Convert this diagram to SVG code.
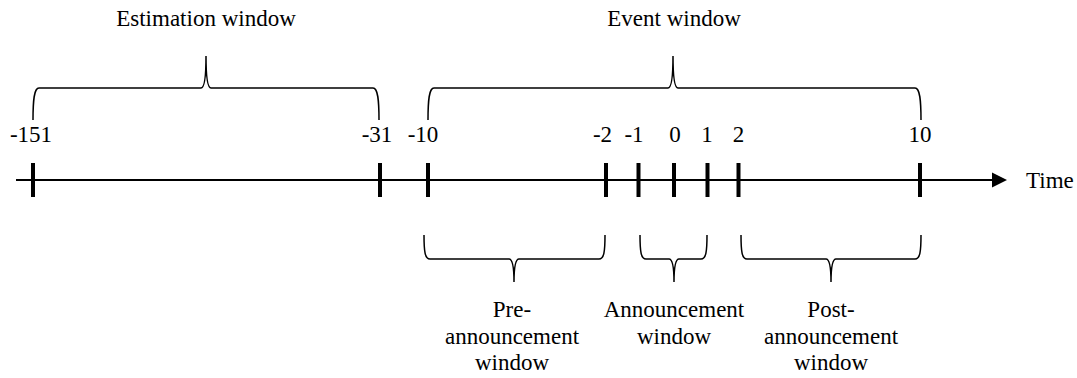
<svg xmlns="http://www.w3.org/2000/svg" width="1077" height="378" viewBox="0 0 1077 378">
<style>
text{font-family:'Liberation Serif',Tinos,'Times New Roman',Times,'Noto Serif','DejaVu Serif',serif;font-size:23px;fill:#000}
.m{text-anchor:middle}
.brace{fill:none;stroke:#000;stroke-width:1.5}
.axis{stroke:#000;stroke-width:2}
.tick{stroke:#000;stroke-width:4}
</style>
<rect width="1077" height="378" fill="#fff"/>
<g id="connectors">
<line class="axis" x1="16" y1="180" x2="994" y2="180"/>
<polygon points="992,172.5 1007,180 992,187.5" fill="#000"/>
</g>
<g id="ticks">
<line class="tick" x1="33" y1="163" x2="33" y2="197"/>
<line class="tick" x1="380" y1="163" x2="380" y2="197"/>
<line class="tick" x1="428" y1="163" x2="428" y2="197"/>
<line class="tick" x1="606" y1="163" x2="606" y2="197"/>
<line class="tick" x1="638.5" y1="163" x2="638.5" y2="197"/>
<line class="tick" x1="674" y1="163" x2="674" y2="197"/>
<line class="tick" x1="707.5" y1="163" x2="707.5" y2="197"/>
<line class="tick" x1="738.5" y1="163" x2="738.5" y2="197"/>
<line class="tick" x1="920" y1="163" x2="920" y2="197"/>
</g>
<g id="tick-labels" font-family="Liberation Serif, serif">
<text class="m" x="31" y="142">-151</text>
<text class="m" x="377" y="142">-31</text>
<text class="m" x="423" y="142">-10</text>
<text class="m" x="602.5" y="142">-2</text>
<text class="m" x="634" y="142">-1</text>
<text class="m" x="675" y="142">0</text>
<text class="m" x="707" y="142">1</text>
<text class="m" x="738.5" y="142">2</text>
<text class="m" x="920" y="142">10</text>
<text x="1026" y="188">Time</text>
</g>
<g id="estimation-window">
<path class="brace" d="M33,120 C33,100 34,88 39,88 L201,88 C204,88 206,80 206,56 C206,80 208,88 211,88 L373,88 C378,88 379,100 379,120"/>
<text class="m" x="206" y="26">Estimation window</text>
</g>
<g id="event-window">
<path class="brace" d="M428,120 C428,100 429,88 434,88 L668,88 C671,88 673,80 673,56 C673,80 675,88 678,88 L915,88 C920,88 921,100 921,120"/>
<text class="m" x="674" y="26">Event window</text>
</g>
<g id="pre-announcement-window">
<path class="brace" d="M424,235 C424,252 425,259 430,259 L509,259 C512,259 514,265 514,282 C514,265 516,259 519,259 L599,259 C604,259 605,252 605,235"/>
<text class="m" x="512" y="317">Pre-</text>
<text class="m" x="512" y="343.5">announcement</text>
<text class="m" x="512" y="370">window</text>
</g>
<g id="announcement-window">
<path class="brace" d="M640,235 C640,252 641,259 646,259 L669,259 C672,259 674,265 674,282 C674,265 676,259 679,259 L701,259 C706,259 707,252 707,235"/>
<text class="m" x="674" y="317">Announcement</text>
<text class="m" x="674" y="343.5">window</text>
</g>
<g id="post-announcement-window">
<path class="brace" d="M741,235 C741,252 742,259 747,259 L826,259 C829,259 831,265 831,282 C831,265 833,259 836,259 L915,259 C920,259 921,252 921,235"/>
<text class="m" x="831" y="317">Post-</text>
<text class="m" x="831" y="343.5">announcement</text>
<text class="m" x="831" y="370">window</text>
</g>
</svg>
